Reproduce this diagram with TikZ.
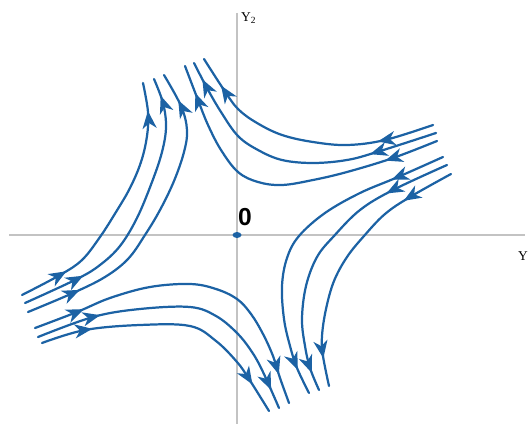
\documentclass[tikz,border=0pt]{standalone}
\usepackage{fontspec}
\setmainfont{Liberation Serif}
\newfontfamily\labelsans{Liberation Sans}
\usepackage{xcolor}
\usepackage{tikz}
\usetikzlibrary{arrows.meta, decorations.markings, shapes.geometric}

\definecolor{flowblue}{RGB}{28,98,164}
\definecolor{axisgray}{RGB}{195,195,195}

\begin{document}
\begin{tikzpicture}[
			x=0.03cm, y=-0.03cm,
			% --- Styles ---
			axisline/.style={
				draw=axisgray, line width=1.2pt
			},
			flow/.style={
				draw=flowblue, color=flowblue, line width=1.9pt, line cap=round
			},
			% one head on the incoming arm, one on the outgoing arm
			arrowpair/.style 2 args={
				postaction={decorate, decoration={markings,
						mark=at position #1 with {\arrow{Stealth[length=15pt, width=12pt, inset=4.5pt]}},
						mark=at position #2 with {\arrow{Stealth[length=15pt, width=12pt, inset=4.5pt]}}}}
			},
			axislabel/.style={
				font=\fontsize{11.5}{13}\selectfont, inner sep=0pt, anchor=north west
			},
			origindot/.style={
				ellipse, fill=flowblue, inner sep=0pt, minimum width=0.27cm, minimum height=0.18cm
			}
			]
			
			\useasboundingbox (0,0) rectangle (529,424);
			
			% --- 1. Axes ---
			\coordinate (origin) at (237,235);
			\coordinate (h_left) at (9,235);
			\coordinate (h_right) at (525,235);
			\coordinate (v_top) at (237,13);
			\coordinate (v_bottom) at (237,424);
			
			\draw [axisline] (h_left) -- (h_right);
			\draw [axisline] (v_top) -- (v_bottom);
			
			% Labels
			\node [axislabel] (label_y2) at (241,12) {Y\textsubscript{2}};
			\node [axislabel] (label_y) at (518,251) {Y};
			\node [font=\labelsans\bfseries\fontsize{21}{21}\selectfont, inner sep=0pt, anchor=south west] (label_zero) at (238,226) {0};
			
			% --- 2. Upper-left sector (left arms -> top) ---
			\draw [flow, arrowpair={1.51cm}{-0.85cm}] plot[smooth, tension=0.6] coordinates {(22,295) (60,275) (82,260) (100,237) (116,212) (130,188) (141,162) (147,136) (148,112) (143,83)};
			\draw [flow, arrowpair={1.93cm}{-0.54cm}] plot[smooth, tension=0.6] coordinates {(25,303) (77,279) (100,265) (120,246) (137,218) (152,182) (162,152) (166,127) (163,103) (154,79)};
			\draw [flow, arrowpair={1.69cm}{-0.87cm}] plot[smooth, tension=0.6] coordinates {(28,312) (73,293) (105,277) (128,259) (145,235) (160,210) (174,181) (184,152) (187,130) (181,106) (164,75)};
			
			% --- 3. Upper-right sector (right arms -> top) ---
			\draw [flow, arrowpair={1.73cm}{-0.95cm}] plot[smooth, tension=0.6] coordinates {(433,125) (385,140) (347,145) (313,142) (282,135) (257,123) (238,109) (224,90) (204,59)};
			\draw [flow, arrowpair={2.08cm}{-0.55cm}] plot[smooth, tension=0.6] coordinates {(436,133) (377,152) (347,160) (313,163) (282,160) (258,150) (238,136) (221,112) (207,88) (194,63)};
			\draw [flow, arrowpair={1.66cm}{-0.87cm}] plot[smooth, tension=0.6] coordinates {(437,141) (393,158) (347,172) (313,180) (282,185) (258,182) (238,172) (221,150) (208,125) (198,100) (185,66)};
			
			% --- 4. Lower-right sector (right arms -> bottom) ---
			\draw [flow, arrowpair={1.69cm}{-0.77cm}] plot[smooth, tension=0.6] coordinates {(443,157) (398,177) (360,193) (325,213) (299,236) (287,258) (282,286) (284,319) (290,346) (297,368) (309,393)};
			\draw [flow, arrowpair={2.01cm}{-0.56cm}] plot[smooth, tension=0.6] coordinates {(447,165) (393,190) (360,210) (334,236) (317,257) (306,286) (302,319) (305,346) (310,368) (319,390)};
			\draw [flow, arrowpair={1.63cm}{-0.85cm}] plot[smooth, tension=0.6] coordinates {(451,174) (410,197) (385,214) (364,236) (347,257) (334,281) (326,309) (322,336) (323,356) (329,386)};
			
			% --- 5. Lower-left sector (left arms -> bottom) ---
			\draw [flow, arrowpair={1.57cm}{-0.91cm}] plot[smooth, tension=0.6] coordinates {(35,328) (77,312) (110,298) (150,287) (190,284) (216,289) (237,299) (251,314) (263,334) (273,356) (280,378) (289,403)};
			\draw [flow, arrowpair={1.98cm}{-0.59cm}] plot[smooth, tension=0.6] coordinates {(38,337) (93,317) (140,309) (190,307) (216,316) (237,333) (252,352) (263,372) (279,408)};
			\draw [flow, arrowpair={1.57cm}{-0.94cm}] plot[smooth, tension=0.6] coordinates {(42,343) (85,330) (140,325) (190,326) (216,341) (237,362) (249,379) (269,411)};
			
			% Saddle point
			\node [origindot] (origin_dot) at (origin) {};
			
		\end{tikzpicture}
\end{document}
